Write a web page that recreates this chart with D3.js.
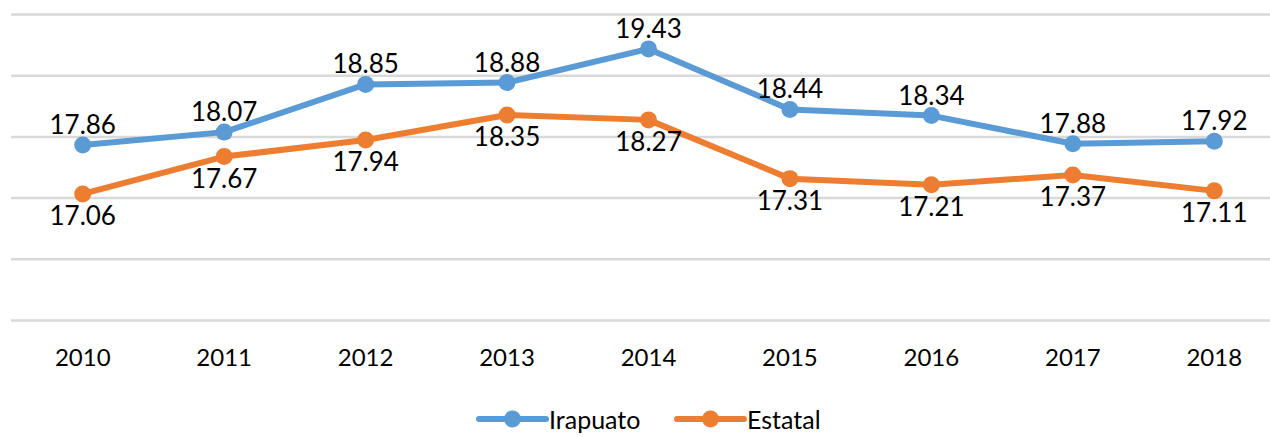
<!DOCTYPE html>
<html>

<head>
    <meta http-equiv="Content-Type" content="text/html; charset=UTF-8" />
    <script src="https://d3js.org/d3.v7.min.js"></script>
    <style>
        body { margin: 0; background: #fff; }
        svg { display: block; font-family: Lato, "Open Sans", sans-serif; }
    </style>
</head>

<body>
<svg></svg>

<script>
    // chart data
    let years = ["2010", "2011", "2012", "2013", "2014", "2015", "2016", "2017", "2018"];
    let irapuato = [17.86, 18.07, 18.85, 18.88, 19.43, 18.44, 18.34, 17.88, 17.92];
    let estatal = [17.06, 17.67, 17.94, 18.35, 18.27, 17.31, 17.21, 17.37, 17.11];
    let yTicks = [15, 16, 17, 18, 19, 20];

    let width = 1270, height = 437;

    let svg = d3.select("svg")
        .attr("width", width)
        .attr("height", height);

    let x = d3.scalePoint()
        .domain(years)
        .range([12, 1285])
        .padding(0.5);

    let y = d3.scaleLinear()
        .domain([15, 20])
        .range([320, 14]);

    // gridlines
    svg.append("g")
        .attr("transform", "translate(11,0)")
        .call(d3.axisLeft(y).tickValues(yTicks).tickSize(-1300).tickFormat(""))
        .call(g => g.select(".domain").remove())
        .call(g => g.selectAll("line").attr("stroke", "#d9d9d9").attr("stroke-width", 2.5));

    // year labels
    svg.append("g")
        .selectAll("text")
        .data(years)
        .enter()
        .append("text")
        .attr("x", d => x(d))
        .attr("y", 366)
        .attr("text-anchor", "middle")
        .style("font-size", "24px")
        .style("fill", "#000")
        .text(d => d);

    let series = [
        { name: "Irapuato", values: irapuato, color: "#5b9bd5", dy: -11 },
        { name: "Estatal", values: estatal, color: "#ed7d31", dy: 31 }
    ];

    let line = d3.line()
        .x((d, i) => x(years[i]))
        .y(d => y(d));

    series.forEach(s => {
        let g = svg.append("g");

        g.append("path")
            .datum(s.values)
            .attr("fill", "none")
            .attr("stroke", s.color)
            .attr("stroke-width", 6)
            .attr("stroke-linejoin", "round")
            .attr("d", line);

        g.selectAll("circle")
            .data(s.values)
            .enter()
            .append("circle")
            .attr("cx", (d, i) => x(years[i]))
            .attr("cy", d => y(d))
            .attr("r", 8.5)
            .attr("fill", s.color);

        g.selectAll("text")
            .data(s.values)
            .enter()
            .append("text")
            .attr("x", (d, i) => x(years[i]))
            .attr("y", d => y(d) + s.dy)
            .attr("text-anchor", "middle")
            .style("font-size", "26px")
            .style("fill", "#000")
            .text(d => d.toFixed(2));
    });

    // legend (kept just inside the bottom edge)
    let legend = svg.append("g")
        .selectAll("g")
        .data(series)
        .enter()
        .append("g")
        .attr("transform", (d, i) => "translate(" + (479 + i * 198) + ",419)");

    legend.append("line")
        .attr("x1", 0)
        .attr("x2", 67)
        .attr("stroke", d => d.color)
        .attr("stroke-width", 6)
        .attr("stroke-linecap", "round");

    legend.append("circle")
        .attr("cx", 33.5)
        .attr("r", 8.5)
        .attr("fill", d => d.color);

    legend.append("text")
        .attr("x", 70)
        .attr("y", 10)
        .style("font-size", "25px")
        .style("fill", "#000")
        .text(d => d.name);
</script>
</body>
</html>
